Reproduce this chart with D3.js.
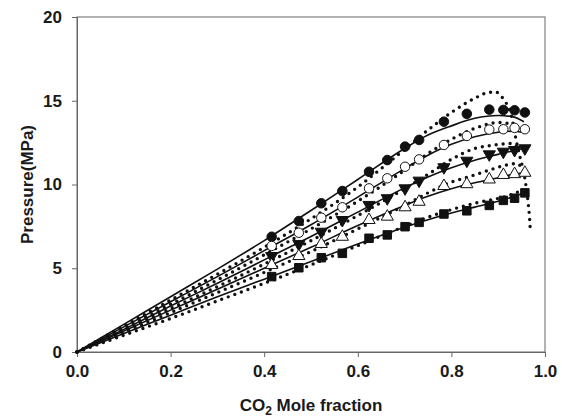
<!DOCTYPE html>
<html>
<head>
<meta charset="utf-8">
<script src="https://cdn.jsdelivr.net/npm/d3@7"></script>
<style>
  body { margin: 0; background: #fff; }
  text { font-family: "Liberation Sans", Arial, sans-serif; font-weight: bold; }
</style>
</head>
<body>
<div id="chart"></div>
<script>
//SVG size
var svgWidth = 562;
var svgHeight = 420;

var margin = { top: 17, right: 17, bottom: 68, left: 77 };
var width = svgWidth - margin.left - margin.right;
var height = svgHeight - margin.top - margin.bottom;

//Tick values
var xTicks = [0.0, 0.2, 0.4, 0.6, 0.8, 1.0];
var yTicks = [0, 5, 10, 15, 20];

//Measured points (shared mole fractions)
var markerX = [0.416, 0.474, 0.522, 0.567, 0.624, 0.663, 0.701, 0.731, 0.784, 0.833, 0.881, 0.911, 0.935, 0.957];
var filledCircleY = [6.88, 7.82, 8.88, 9.61, 10.76, 11.46, 12.26, 12.66, 13.75, 14.22, 14.47, 14.45, 14.43, 14.3];
var openCircleY = [6.33, 7.12, 8.02, 8.64, 9.77, 10.37, 11.06, 11.5, 12.36, 12.9, 13.28, 13.3, 13.38, 13.3];
var downTriY = [5.73, 6.45, 7.18, 7.88, 8.78, 9.18, 9.77, 10.23, 11.03, 11.42, 11.8, 11.96, 12.06, 12.16];
var upTriY = [5.19, 5.73, 6.45, 6.88, 7.88, 8.08, 8.64, 8.97, 9.91, 10.02, 10.3, 10.57, 10.62, 10.7];
var squareY = [4.5, 5.03, 5.63, 5.89, 6.79, 6.99, 7.48, 7.74, 8.24, 8.43, 8.75, 9.05, 9.18, 9.5];

//Model 1 (solid lines) [x, P]
var solid1 = [[0,0],[0.1,1.65],[0.2,3.3],[0.3,4.95],[0.4,6.65],[0.5,8.45],[0.6,10.3],[0.7,12.15],[0.75,12.95],[0.8,13.5],[0.85,13.95],[0.9,14.12],[0.93,14.05],[0.955,13.75]];
var solid2 = [[0,0],[0.1,1.5],[0.2,3.0],[0.3,4.5],[0.4,6.05],[0.5,7.6],[0.6,9.25],[0.7,10.95],[0.75,11.75],[0.8,12.4],[0.85,12.85],[0.9,13.12],[0.93,13.18],[0.955,13.1]];
var solid3 = [[0,0],[0.1,1.35],[0.2,2.75],[0.3,4.1],[0.4,5.5],[0.5,6.9],[0.6,8.35],[0.7,9.8],[0.75,10.45],[0.8,11.0],[0.85,11.45],[0.9,11.8],[0.93,12.0],[0.955,12.15]];
var solid4 = [[0,0],[0.1,1.25],[0.2,2.5],[0.3,3.75],[0.4,5.0],[0.5,6.25],[0.6,7.55],[0.7,8.75],[0.75,9.3],[0.8,9.75],[0.85,10.1],[0.9,10.4],[0.93,10.6],[0.955,10.7]];
var solid5 = [[0,0],[0.1,1.1],[0.2,2.2],[0.3,3.3],[0.4,4.35],[0.5,5.4],[0.6,6.45],[0.7,7.45],[0.75,7.9],[0.8,8.3],[0.85,8.65],[0.9,9.0],[0.93,9.25],[0.96,9.55]];

//Model 2 (dotted lines) [x, P]
var dotted1 = [[0,0],[0.1,1.55],[0.2,3.1],[0.3,4.65],[0.4,6.25],[0.5,7.95],[0.6,9.85],[0.65,10.95],[0.7,12.1],[0.75,13.25],[0.8,14.3],[0.85,15.15],[0.88,15.5],[0.895,15.52],[0.907,15.25],[0.915,14.95],[0.925,14.4],[0.932,13.6],[0.938,12.7],[0.946,11.7],[0.954,10.8],[0.96,9.8],[0.964,8.9],[0.967,8.0],[0.969,7.1]];
var dotted2 = [[0,0],[0.1,1.42],[0.2,2.85],[0.3,4.3],[0.4,5.8],[0.5,7.35],[0.6,9.0],[0.7,10.85],[0.75,11.85],[0.8,12.7],[0.85,13.35],[0.9,13.7],[0.92,13.65],[0.93,13.45],[0.936,13.1]];
var dotted3 = [[0,0],[0.1,1.3],[0.2,2.6],[0.3,3.9],[0.4,5.25],[0.5,6.65],[0.6,8.15],[0.7,9.75],[0.75,10.6],[0.8,11.5],[0.85,12.15],[0.89,12.35],[0.93,12.45],[0.942,12.2]];
var dotted4 = [[0,0],[0.1,1.18],[0.2,2.35],[0.3,3.55],[0.4,4.75],[0.5,6.0],[0.6,7.35],[0.7,8.75],[0.75,9.5],[0.8,10.15],[0.83,10.4],[0.88,10.85],[0.915,11.15],[0.94,11.25],[0.953,10.9]];
var dotted5 = [[0,0],[0.1,1.0],[0.2,2.0],[0.3,3.05],[0.4,4.1],[0.5,5.2],[0.6,6.35],[0.7,7.5],[0.75,8.05],[0.8,8.5],[0.85,8.88],[0.915,9.27],[0.95,9.57],[0.957,9.4]];

var svg = d3.select("#chart")
  .append("svg")
  .attr("width", svgWidth)
  .attr("height", svgHeight);

var chartGroup = svg.append("g")
  .attr("transform", `translate(${margin.left}, ${margin.top})`);

//Scales
var xScale = d3.scaleLinear().domain([0, 1]).range([0, width]);
var yScale = d3.scaleLinear().domain([0, 20]).range([height, 0]);

//Frame
chartGroup.append("rect")
  .attr("width", width)
  .attr("height", height)
  .attr("fill", "none")
  .attr("stroke", "#666")
  .attr("stroke-width", 1);

//Axes
var bottomAxis = d3.axisBottom(xScale).tickValues(xTicks).tickFormat(d3.format(".1f")).tickSize(5).tickPadding(8);
var leftAxis = d3.axisLeft(yScale).tickValues(yTicks).tickFormat(d3.format("d")).tickSize(5).tickPadding(10);

var xAxisG = chartGroup.append("g")
  .attr("transform", `translate(0, ${height})`)
  .call(bottomAxis);
var yAxisG = chartGroup.append("g").call(leftAxis);

[xAxisG, yAxisG].forEach(function(g) {
  g.select(".domain").attr("stroke", "#666");
  g.selectAll(".tick line").attr("stroke", "#666");
  g.selectAll(".tick text").attr("fill", "#1a1a1a").style("font-size", "17px").style("font-weight", "bold")
    .style("font-family", "'Liberation Sans', Arial, sans-serif");
});

//Lines
var line = d3.line()
  .x(d => xScale(d[0]))
  .y(d => yScale(d[1]))
  .curve(d3.curveMonotoneX);

[solid1, solid2, solid3, solid4, solid5].forEach(function(s) {
  chartGroup.append("path")
    .attr("d", line(s))
    .attr("fill", "none")
    .attr("stroke", "#111")
    .attr("stroke-width", 1.6);
});

[dotted1, dotted2, dotted3, dotted4, dotted5].forEach(function(s) {
  chartGroup.append("path")
    .attr("d", line(s))
    .attr("fill", "none")
    .attr("stroke", "#111")
    .attr("stroke-width", 3.4)
    .attr("stroke-linecap", "round")
    .attr("stroke-dasharray", "0,7");
});

//Markers
var markerSets = [
  { y: filledCircleY, type: d3.symbolCircle, size: 72, fill: "#111", rot: 0 },
  { y: openCircleY, type: d3.symbolCircle, size: 70, fill: "#fff", rot: 0 },
  { y: downTriY, type: d3.symbolTriangle, size: 64, fill: "#111", rot: 180 },
  { y: upTriY, type: d3.symbolTriangle, size: 64, fill: "#fff", rot: 0 },
  { y: squareY, type: d3.symbolSquare, size: 72, fill: "#111", rot: 0 }
];

markerSets.forEach(function(m) {
  chartGroup.append("g").selectAll("path")
    .data(markerX.map((x, i) => [x, m.y[i]]))
    .enter()
    .append("path")
    .attr("d", d3.symbol().type(m.type).size(m.size))
    .attr("transform", d => `translate(${xScale(d[0])}, ${yScale(d[1])}) rotate(${m.rot})`)
    .attr("fill", m.fill)
    .attr("stroke", "#111")
    .attr("stroke-width", 1);
});

//Axis titles
var xTitle = svg.append("text")
  .attr("x", margin.left + width / 2)
  .attr("y", 411)
  .attr("text-anchor", "middle")
  .style("font-size", "17px")
  .attr("fill", "#1a1a1a");
xTitle.append("tspan").text("CO");
xTitle.append("tspan").attr("dy", 4).style("font-size", "12px").text("2");
xTitle.append("tspan").attr("dy", -4).text(" Mole fraction");

svg.append("text")
  .attr("transform", `translate(33, ${margin.top + height / 2}) rotate(-90)`)
  .attr("text-anchor", "middle")
  .style("font-size", "17px")
  .attr("fill", "#1a1a1a")
  .text("Pressure(MPa)");
</script>
</body>
</html>
